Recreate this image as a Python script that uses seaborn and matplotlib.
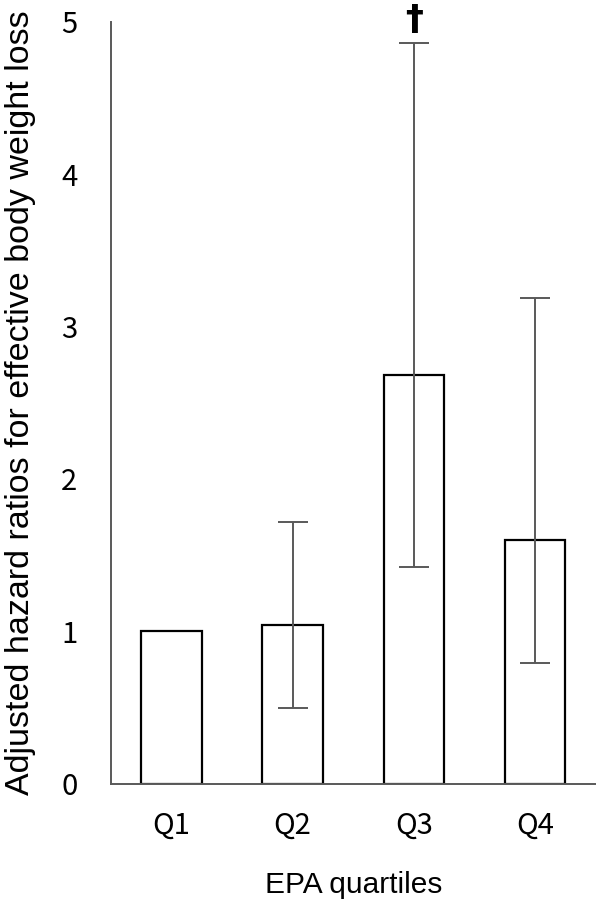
import numpy as np
import pandas as pd
import seaborn as sns
import matplotlib.pyplot as plt

# Values
quartiles = ["Q1", "Q2", "Q3", "Q4"]
hazard_ratio = [1.00, 1.04, 2.68, 1.60]
ci_low = [np.nan, 0.50, 1.42, 0.79]
ci_high = [np.nan, 1.72, 4.86, 3.19]
y_ticks = [0, 1, 2, 3, 4, 5]

df = pd.DataFrame({"quartile": quartiles, "hr": hazard_ratio,
                   "low": ci_low, "high": ci_high})

sns.set_style("white")
plt.rcParams["font.family"] = ["Liberation Sans", "DejaVu Sans"]
plt.rcParams["text.color"] = "black"
plt.rcParams["axes.labelcolor"] = "black"
plt.rcParams["xtick.color"] = "black"
plt.rcParams["ytick.color"] = "black"

fig = plt.figure(figsize=(5.96, 9.01), dpi=100)
ax = fig.add_axes([0.186, 0.1299, 0.8135, 0.8462])

sns.barplot(data=df, x="quartile", y="hr", color="white", edgecolor="black",
            linewidth=1.6, width=0.5, ax=ax)

# confidence intervals (none for the reference group)
yerr = np.vstack([df["hr"] - df["low"], df["high"] - df["hr"]])
ax.errorbar(np.arange(len(df)), df["hr"], yerr=yerr, fmt="none",
            ecolor="#595959", elinewidth=1.4, capsize=10.5, capthick=1.4)

ax.text(2, 5.12, "\u2020", ha="center", va="top", fontsize=26,
        fontweight="bold", family=["DejaVu Sans"], clip_on=False)

ax.set_xlim(-0.5, 3.5)
ax.set_ylim(0, 5)
ax.set_yticks(y_ticks)

for side in ["top", "right"]:
    ax.spines[side].set_visible(False)
for side in ["left", "bottom"]:
    ax.spines[side].set_color("#595959")
    ax.spines[side].set_linewidth(1.4)

ax.tick_params(axis="x", length=0, pad=19, labelsize=21)
ax.tick_params(axis="y", length=0, pad=24, labelsize=21)
for lab in ax.get_xticklabels() + ax.get_yticklabels():
    lab.set_family(["Noto Sans CJK JP", "DejaVu Sans"])

ax.set_xlabel("EPA quartiles", fontsize=21.5, labelpad=22)
ax.set_ylabel("Adjusted hazard ratios for effective body weight loss",
              fontsize=24.5, labelpad=18)

fig.savefig("out.png", dpi=100)
